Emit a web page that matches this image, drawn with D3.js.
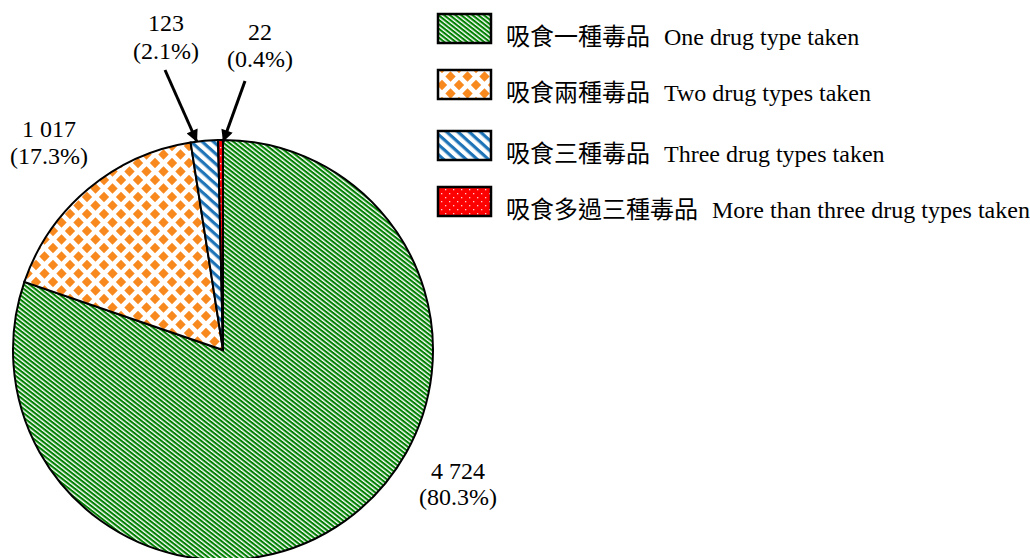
<!DOCTYPE html>
<html><head><meta charset="utf-8">
<script src="https://cdn.jsdelivr.net/npm/d3@7"></script>
<style>html,body{margin:0;padding:0;background:#fff;overflow:hidden}</style>
</head><body>
<script>
const categories = ["吸食一種毒品", "吸食兩種毒品", "吸食三種毒品", "吸食多過三種毒品"];
const categoriesEn = ["One drug type taken", "Two drug types taken", "Three drug types taken", "More than three drug types taken"];
const values = [4724, 1017, 123, 22];
const valueLabels = ["4 724", "1 017", "123", "22"];
const pctLabels = ["(80.3%)", "(17.3%)", "(2.1%)", "(0.4%)"];

const W = 1030, H = 558;
const svg = d3.select("body").append("svg").attr("width", W).attr("height", H);
const defs = svg.append("defs");

// green diagonal stripes
const pg = defs.append("pattern").attr("id", "pGreen").attr("patternUnits", "userSpaceOnUse")
  .attr("width", 8).attr("height", 3.5).attr("patternTransform", "rotate(38)");
pg.append("rect").attr("width", 8).attr("height", 3.5).attr("fill", "#fff");
pg.append("rect").attr("width", 8).attr("height", 2.1).attr("fill", "#008000");

// orange diamonds
const po = defs.append("pattern").attr("id", "pOrange").attr("patternUnits", "userSpaceOnUse")
  .attr("width", 17).attr("height", 17).attr("x", 0).attr("y", 0);
po.append("rect").attr("width", 17).attr("height", 17).attr("fill", "#fff");
[[0,0],[17,0],[0,17],[17,17],[8.5,8.5]].forEach(([x,y]) => {
  po.append("path").attr("d", `M${x},${y-5.2}L${x+5.2},${y}L${x},${y+5.2}L${x-5.2},${y}Z`).attr("fill", "#F7891F");
});

// blue stripes
const pb = defs.append("pattern").attr("id", "pBlue").attr("patternUnits", "userSpaceOnUse")
  .attr("width", 10).attr("height", 7.5).attr("patternTransform", "rotate(42)");
pb.append("rect").attr("width", 10).attr("height", 7.5).attr("fill", "#fff");
pb.append("rect").attr("width", 10).attr("height", 3.2).attr("fill", "#1F74B8");

// red with white dots
const pr = defs.append("pattern").attr("id", "pRed").attr("patternUnits", "userSpaceOnUse")
  .attr("width", 8).attr("height", 8);
pr.append("rect").attr("width", 8).attr("height", 8).attr("fill", "#FF0000");
pr.append("rect").attr("x", 1).attr("y", 1).attr("width", 1.3).attr("height", 1.3).attr("fill", "#ffd0d0");
pr.append("rect").attr("x", 5).attr("y", 5).attr("width", 1.3).attr("height", 1.3).attr("fill", "#ffd0d0");

const fills = ["url(#pGreen)", "url(#pOrange)", "url(#pBlue)", "url(#pRed)"];

const cx = 223, cy = 350, R = 210;
const pie = d3.pie().sort(null).value(d => d).startAngle(0).endAngle(2 * Math.PI);
const arc = d3.arc().innerRadius(0).outerRadius(R);
const arcs = pie(values);

const g = svg.append("g").attr("transform", `translate(${cx},${cy})`);
g.selectAll("path.slice").data(arcs).join("path").attr("class", "slice")
  .attr("d", arc).attr("fill", (d, i) => fills[i])
  .attr("stroke", "#000").attr("stroke-width", 2).attr("stroke-linejoin", "miter");

// labels
const font = "'Liberation Serif','Times New Roman',serif";
const labelPos = [[458, 479, 505], [49, 137, 164], [166, 31, 59], [260, 40, 67]];
labelPos.forEach(([x, y1, y2], i) => {
  const t = svg.append("text").attr("font-family", font).attr("font-size", 24)
    .attr("text-anchor", "middle").attr("fill", "#000");
  t.append("tspan").attr("x", x).attr("y", y1).text(valueLabels[i]);
  t.append("tspan").attr("x", x).attr("y", y2).text(pctLabels[i]);
});

// arrows
defs.append("marker").attr("id", "arrow").attr("viewBox", "0 0 10 10").attr("refX", 10).attr("refY", 5)
  .attr("markerWidth", 4.5).attr("markerHeight", 4).attr("markerUnits", "strokeWidth").attr("orient", "auto")
  .append("path").attr("d", "M0,0L10,5L0,10Z").attr("fill", "#000");
const arrowLines = [[2, 165, 70, 197, 142], [3, 245, 81, 223, 142]];
arrowLines.forEach(([i, x1, y1, x2, y2]) => {
  svg.append("line").attr("x1", x1).attr("y1", y1).attr("x2", x2).attr("y2", y2)
    .attr("stroke", "#000").attr("stroke-width", 3).attr("marker-end", "url(#arrow)");
});

// legend
const legY = [14, 70, 131, 187];
const lg = svg.append("g");
categories.forEach((c, i) => {
  lg.append("rect").attr("x", 438).attr("y", legY[i]).attr("width", 53).attr("height", 29)
    .attr("fill", fills[i]).attr("stroke", "#000").attr("stroke-width", 2.5);
  const t = lg.append("text").attr("x", 506).attr("y", legY[i] + 31).attr("fill", "#000")
    .attr("font-size", 24);
  t.append("tspan").attr("font-family", "'Noto Sans CJK TC','Noto Sans CJK SC',sans-serif").text(c);
  t.append("tspan").attr("dx", 14).attr("font-family", font).text(categoriesEn[i]);
});
</script>
</body></html>
